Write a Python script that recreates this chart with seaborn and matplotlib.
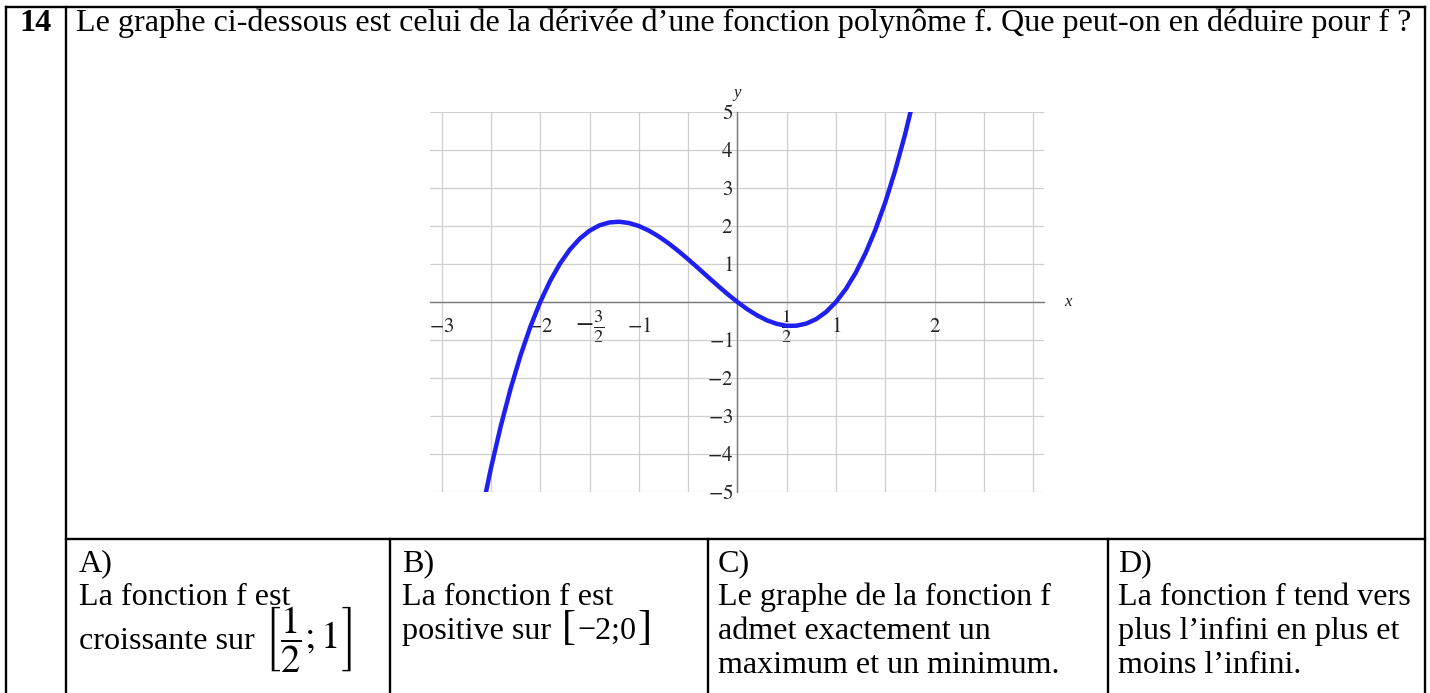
import numpy as np
import pandas as pd
import matplotlib
matplotlib.use("Agg")
import matplotlib.pyplot as plt
import seaborn as sns
from matplotlib.lines import Line2D

# ---------------- data ----------------
x_values = [-2.6, -2.5, -2.4, -2.3, -2.2, -2.1, -2.0, -1.9, -1.8, -1.7, -1.6,
            -1.5, -1.4, -1.3, -1.2, -1.1, -1.0, -0.9, -0.8, -0.7, -0.6, -0.5,
            -0.4, -0.3, -0.2, -0.1, 0.0, 0.1, 0.2, 0.3, 0.4, 0.5, 0.6, 0.7,
            0.8, 0.9, 1.0, 1.1, 1.2, 1.3, 1.4, 1.5, 1.6, 1.7, 1.8]
derivative_values = [-5.616, -4.375, -3.264, -2.277, -1.408, -0.651, 0.0, 0.551,
                     1.008, 1.377, 1.664, 1.875, 2.016, 2.093, 2.112, 2.079, 2.0,
                     1.881, 1.728, 1.547, 1.344, 1.125, 0.896, 0.663, 0.432, 0.209,
                     0.0, -0.189, -0.352, -0.483, -0.576, -0.625, -0.624, -0.567,
                     -0.448, -0.261, 0.0, 0.341, 0.768, 1.287, 1.904, 2.625, 3.456,
                     4.403, 5.472]
x_tick_positions = [-3, -2, -1.5, -1, 0.5, 1, 2]
x_tick_labels = [r"$-3$", r"$-2$", r"$-\frac{3}{2}$", r"$-1$", r"$\frac{1}{2}$", r"$1$", r"$2$"]
y_tick_positions = [-5, -4, -3, -2, -1, 1, 2, 3, 4, 5]
y_tick_labels = [r"$-5$", r"$-4$", r"$-3$", r"$-2$", r"$-1$", r"$1$", r"$2$", r"$3$", r"$4$", r"$5$"]
x_limits = [-3.118, 3.11]
y_limits = [-5, 5]

question_number = "14"
question_text = "Le graphe ci-dessous est celui de la dérivée d’une fonction polynôme f. Que peut-on en déduire pour f ?"
answer_labels = ["A)", "B)", "C)", "D)"]
answer_a_lines = ["La fonction f est", "croissante sur"]
answer_a_interval = r"$\left[\dfrac{1}{2};1\right]$"
answer_b_lines = ["La fonction f est", "positive sur"]
answer_b_interval = ["[", "−2;0", "]"]
answer_c_lines = ["Le graphe de la fonction f", "admet exactement un", "maximum et un minimum."]
answer_d_lines = ["La fonction f tend vers", "plus l’infini en plus et", "moins l’infini."]

# ---------------- style ----------------
sns.set_theme(style="white")
plt.rcParams["font.family"] = ["Liberation Serif", "DejaVu Serif"]
plt.rcParams["mathtext.fontset"] = "stix"

W, H = 1430, 693
fig = plt.figure(figsize=(W / 100, H / 100), dpi=100)
fig.patch.set_facecolor("white")


def fx(x):
    return x / W


def fy(y):
    return 1 - y / H


def hline(y, x1, x2, lw=1.7):
    fig.add_artist(Line2D([fx(x1), fx(x2)], [fy(y), fy(y)], transform=fig.transFigure,
                          color="black", lw=lw, solid_capstyle="projecting"))


def vline(x, y1, y2, lw=1.7):
    fig.add_artist(Line2D([fx(x), fx(x)], [fy(y1), fy(y2)], transform=fig.transFigure,
                          color="black", lw=lw, solid_capstyle="projecting"))


# table borders
hline(7, 6, 1425)
vline(6, 7, 693)
vline(1425, 7, 693)
vline(66, 7, 693)
hline(539, 66, 1425)
for xs in [390, 708, 1108]:
    vline(xs, 539, 693)

renderer = fig.canvas.get_renderer()

# title text, sized to span the cell
t = fig.text(fx(76), fy(31), question_text, fontsize=20, va="baseline", color="black")
w = t.get_window_extent(renderer).width
fs = 20 * 1338 / w
t.set_fontsize(fs)

fig.text(fx(35), fy(31), question_number, fontsize=fs, fontweight="bold",
         ha="center", va="baseline", color="black")

# answers
col_x = [79, 402, 718, 1118]
base_label = 571
line_gap = 34


def draw_pieces(x0, baseline, pieces):
    x = x0
    for txt, size, gap in pieces:
        x += gap
        tt = fig.text(fx(x), fy(baseline), txt, fontsize=size, va="baseline", color="black")
        x += tt.get_window_extent(renderer).width


all_lines = [answer_a_lines, answer_b_lines, answer_c_lines, answer_d_lines]
for i, lab in enumerate(answer_labels):
    fig.text(fx(col_x[i]), fy(base_label), lab, fontsize=fs, va="baseline", color="black")
for i in [2, 3]:
    for j, line in enumerate(all_lines[i]):
        fig.text(fx(col_x[i]), fy(base_label + (j + 1) * line_gap), line,
                 fontsize=fs, va="baseline", color="black")
for i in [0, 1]:
    fig.text(fx(col_x[i]), fy(base_label + line_gap), all_lines[i][0],
             fontsize=fs, va="baseline", color="black")

draw_pieces(col_x[0], base_label + 2 * line_gap + 10,
            [(answer_a_lines[1], fs, 0), (answer_a_interval, fs * 1.2, 9)])
draw_pieces(col_x[1], base_label + 2 * line_gap,
            [(answer_b_lines[1], fs, 0), (answer_b_interval[0], fs * 1.3, 11),
             (answer_b_interval[1], fs, 1), (answer_b_interval[2], fs * 1.3, 1)])

# ---------------- the graph ----------------
ax = fig.add_axes([fx(430), fy(492), (1044 - 430) / W, (492 - 112) / H])
ax.patch.set_alpha(0)
sns.lineplot(x=x_values, y=derivative_values, ax=ax, color="#1f1ff0", lw=3.2,
             sort=False, estimator=None, zorder=5)
ax.set_xlim(*x_limits)
ax.set_ylim(*y_limits)

for s in ["top", "right"]:
    ax.spines[s].set_visible(False)
ax.spines["left"].set_position(("data", 0))
ax.spines["bottom"].set_position(("data", 0))
for s in ["left", "bottom"]:
    ax.spines[s].set_color("#7a7a7a")
    ax.spines[s].set_linewidth(1.0)

ax.set_xticks(x_tick_positions)
ax.set_xticklabels(x_tick_labels)
ax.set_yticks(y_tick_positions)
ax.set_yticklabels(y_tick_labels)
ax.set_xticks(np.arange(-3, 3.01, 0.5), minor=True)
ax.set_yticks(np.arange(-5, 5.01, 1), minor=True)
ax.grid(which="both", color="#cfcfcf", lw=0.9)
ax.set_axisbelow(True)

ax.tick_params(axis="x", which="major", direction="in", length=5, width=0.8,
               color="#777777", labelsize=15, pad=18, labelcolor="#222222")
ax.tick_params(axis="y", which="major", direction="in", length=5, width=0.8,
               color="#777777", labelsize=15, pad=3, labelcolor="#222222")
ax.tick_params(which="minor", length=0)
for lab in ax.get_xticklabels():
    lab.set_verticalalignment("center")
    if "frac" in lab.get_text():
        lab.set_fontsize(19)

ax.annotate("x", xy=(x_limits[1], 0), xycoords="data", xytext=(17, 0),
            textcoords="offset points", ha="center", va="center",
            fontsize=12, fontstyle="italic", color="#222222")
ax.annotate("y", xy=(0, y_limits[1]), xycoords="data", xytext=(0, 14),
            textcoords="offset points", ha="center", va="center",
            fontsize=12, fontstyle="italic", color="#222222", annotation_clip=False)

fig.savefig("out.png", dpi=100, facecolor="white")
